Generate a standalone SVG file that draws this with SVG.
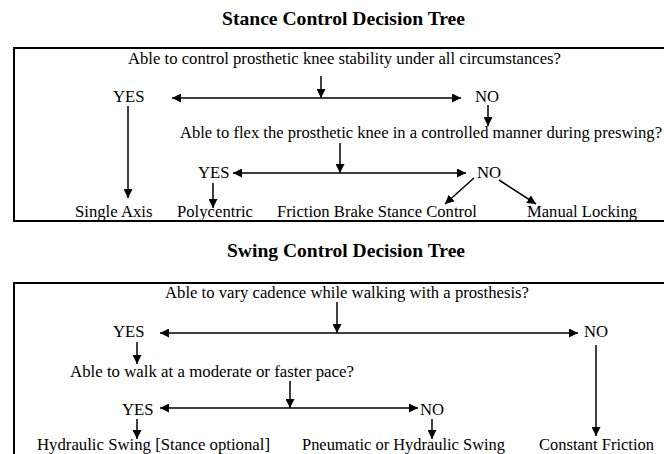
<svg xmlns="http://www.w3.org/2000/svg" width="664" height="454" viewBox="0 0 664 454">
<defs>
<marker id="ah" viewBox="0 0 10 10" refX="10" refY="5" markerWidth="9" markerHeight="9" markerUnits="userSpaceOnUse" orient="auto">
<path d="M0,0 L10,5 L0,10 z" fill="#000"/>
</marker>
<style>
text{font-family:"Liberation Serif","Times New Roman",serif;fill:#000;}
.t{font-size:16.7px;}
.h{font-size:19px;font-weight:bold;}
.c{stroke:#000;stroke-width:1.5;fill:none;marker-end:url(#ah);}
.box{stroke:#000;stroke-width:2;fill:none;}
</style>
</defs>
<rect width="664" height="454" fill="#fff"/>
<g id="stance-title"><text class="h" x="222" y="25" textLength="243" lengthAdjust="spacingAndGlyphs">Stance Control Decision Tree</text></g>
<g id="stance-box"><path class="box" d="M664,48 H14 V221 H664"/></g>
<g id="q1"><text class="t" x="128" y="64" textLength="433" lengthAdjust="spacingAndGlyphs">Able to control prosthetic knee stability under all circumstances?</text></g>
<g id="yes1"><text class="t" x="113" y="102">YES</text></g>
<g id="no1"><text class="t" x="475" y="102">NO</text></g>
<g id="q2"><text class="t" x="180" y="138" textLength="482" lengthAdjust="spacingAndGlyphs">Able to flex the prosthetic knee in a controlled manner during preswing?</text></g>
<g id="yes2"><text class="t" x="198" y="178">YES</text></g>
<g id="no2"><text class="t" x="477" y="178">NO</text></g>
<g id="single-axis"><text class="t" x="75" y="217">Single Axis</text></g>
<g id="polycentric"><text class="t" x="177" y="217">Polycentric</text></g>
<g id="friction-brake"><text class="t" x="277" y="217" textLength="200" lengthAdjust="spacingAndGlyphs">Friction Brake Stance Control</text></g>
<g id="manual-locking"><text class="t" x="527" y="217" textLength="110" lengthAdjust="spacingAndGlyphs">Manual Locking</text></g>
<g id="swing-title"><text class="h" x="227" y="257" textLength="238" lengthAdjust="spacingAndGlyphs">Swing Control Decision Tree</text></g>
<g id="swing-box"><path class="box" d="M664,283 H14 V460"/></g>
<g id="q3"><text class="t" x="165" y="298" textLength="364" lengthAdjust="spacingAndGlyphs">Able to vary cadence while walking with a prosthesis?</text></g>
<g id="yes3"><text class="t" x="113" y="337">YES</text></g>
<g id="no3"><text class="t" x="584" y="337">NO</text></g>
<g id="q4"><text class="t" x="70" y="377" textLength="284" lengthAdjust="spacingAndGlyphs">Able to walk at a moderate or faster pace?</text></g>
<g id="yes4"><text class="t" x="122" y="415">YES</text></g>
<g id="no4"><text class="t" x="420" y="415">NO</text></g>
<g id="hydraulic"><text class="t" x="37" y="450" textLength="233" lengthAdjust="spacingAndGlyphs">Hydraulic Swing [Stance optional]</text></g>
<g id="pneumatic"><text class="t" x="302" y="450" textLength="203" lengthAdjust="spacingAndGlyphs">Pneumatic or Hydraulic Swing</text></g>
<g id="constant-friction"><text class="t" x="539" y="450" textLength="115" lengthAdjust="spacingAndGlyphs">Constant Friction</text></g>
<g id="connectors">
<path class="c" d="M321,76 V98"/>
<path class="c" d="M321,98 H172"/>
<path class="c" d="M321,98 H461"/>
<path class="c" d="M128,106 V198"/>
<path class="c" d="M488,105 V126"/>
<path class="c" d="M340,143 V173"/>
<path class="c" d="M340,173 H233"/>
<path class="c" d="M340,173 H466"/>
<path class="c" d="M213,183 V208"/>
<path class="c" d="M474,178 L445,204"/>
<path class="c" d="M499,180 L536,204"/>
<path class="c" d="M337,302 V333"/>
<path class="c" d="M337,333 H160"/>
<path class="c" d="M337,333 H578"/>
<path class="c" d="M137,342 V364"/>
<path class="c" d="M596,345 V436"/>
<path class="c" d="M290,381 V408"/>
<path class="c" d="M290,408 H160"/>
<path class="c" d="M290,408 H418"/>
<path class="c" d="M137,419 V439"/>
<path class="c" d="M432,419 V439"/>
</g>
</svg>
